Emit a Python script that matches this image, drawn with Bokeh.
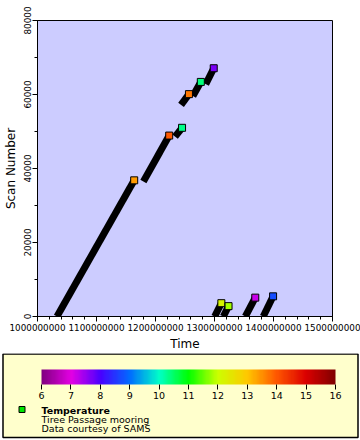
import numpy as np
from bokeh.plotting import figure
from bokeh.layouts import column
from bokeh.models import (Range1d, FixedTicker, BasicTickFormatter, LinearColorMapper,
                          ColorBar, ColumnDataSource)
from bokeh.transform import linear_cmap
from bokeh.core.properties import value
from bokeh.embed import file_html
from bokeh.resources import INLINE

# ---------------- data ----------------
start_time = [1.033e9, 1.1795e9, 1.2332e9, 1.2433e9, 1.2634e9, 1.2852e9,
              1.3003e9, 1.3150e9, 1.3523e9, 1.3826e9]
start_scan = [0, 36500, 48600, 57200, 59600, 62800, 0, 0, 0, 0]
end_time = [1.1639e9, 1.2232e9, 1.2450e9, 1.2567e9, 1.2768e9, 1.2987e9,
            1.3116e9, 1.3238e9, 1.3691e9, 1.3993e9]
end_scan = [36800, 48900, 51000, 60100, 63400, 67100, 3600, 2800, 5100, 5450]
temperature = [13.4, 14.0, 10.3, 13.7, 10.4, 7.7, 12.2, 11.8, 7.2, 8.7]

x_ticks = [1000000000, 1100000000, 1200000000, 1300000000, 1400000000, 1500000000]
y_ticks = [0, 20000, 40000, 60000, 80000]
cbar_ticks = [6, 7, 8, 9, 10, 11, 12, 13, 14, 15, 16]

anchor_values = [6, 7, 8, 9, 10, 11, 12, 13, 14, 15, 16]
anchor_colors = ["#800080", "#e400e4", "#4800ff", "#006cff", "#00ffc8", "#00ff00",
                 "#ccff00", "#ffc800", "#ff5800", "#dc0000", "#800000"]

legend_title = "Temperature"
legend_lines = ["Tiree Passage mooring", "Data courtesy of SAMS"]

FONT = "DejaVu Sans"

# ---------------- palette ----------------
rgb = np.array([[int(c[i:i + 2], 16) for i in (1, 3, 5)] for c in anchor_colors], float)
vals = np.linspace(anchor_values[0], anchor_values[-1], 256)
palette = ["#%02x%02x%02x" % tuple(int(round(np.interp(v, anchor_values, rgb[:, k]))) for k in range(3))
           for v in vals]

# ---------------- main plot ----------------
p = figure(width=360, height=353,
           x_range=Range1d(1000000000, 1500000000), y_range=Range1d(0, 80000),
           output_backend="svg", toolbar_location=None,
           background_fill_color="#ccccff", border_fill_color="white",
           min_border_left=37, min_border_right=28, min_border_top=20, min_border_bottom=35,
           x_axis_label="Time", y_axis_label="Scan Number")
p.frame_align = False
p.grid.visible = False
p.outline_line_color = "black"
p.outline_line_width = 1

x_minor = list(np.arange(x_ticks[0], x_ticks[-1] + 1, (x_ticks[1] - x_ticks[0]) / 5))
y_minor = list(np.arange(y_ticks[0], y_ticks[-1] + 1, (y_ticks[1] - y_ticks[0]) / 2))
p.xaxis.ticker = FixedTicker(ticks=x_ticks, minor_ticks=x_minor)
p.yaxis.ticker = FixedTicker(ticks=y_ticks, minor_ticks=y_minor)
p.xaxis.formatter = BasicTickFormatter(use_scientific=False)
p.yaxis.formatter = BasicTickFormatter(use_scientific=False)

for ax in (p.xaxis[0], p.yaxis[0]):
    ax.major_tick_in = 0
    ax.major_tick_out = 5
    ax.minor_tick_in = 0
    ax.minor_tick_out = 3
    ax.major_tick_line_color = "black"
    ax.minor_tick_line_color = "black"
    ax.axis_line_color = "black"
    ax.major_label_text_font = FONT
    ax.major_label_text_font_size = "8.8px"
    ax.major_label_text_color = "black"
    ax.major_label_standoff = 2
    ax.axis_label_text_font = FONT
    ax.axis_label_text_font_size = "12px"
    ax.axis_label_text_font_style = "normal"
    ax.axis_label_text_color = "black"
    ax.axis_label_standoff = 3
p.yaxis.major_label_orientation = "vertical"

src = ColumnDataSource(dict(t0=start_time, s0=start_scan, t1=end_time, s1=end_scan,
                            temp=temperature))
p.segment("t0", "s0", "t1", "s1", source=src, line_color="black", line_width=7)
p.scatter("t1", "s1", source=src, marker="square", size=7, line_color="black", line_width=1,
          fill_color=linear_cmap("temp", palette, anchor_values[0], anchor_values[-1]))

# ---------------- legend box ----------------
q = figure(width=360, height=87, x_range=Range1d(0, 360), y_range=Range1d(87, 0),
           output_backend="svg", toolbar_location=None, min_border=0,
           x_axis_location=None, y_axis_location=None,
           outline_line_color=None, background_fill_color="white", border_fill_color="white")
q.frame_align = False
q.grid.visible = False
q.quad(left=[2.5], right=[357.5], top=[0.5], bottom=[84], fill_color="#ffffcc",
       line_color="black", line_width=1.5)

mapper = LinearColorMapper(palette=palette, low=anchor_values[0], high=anchor_values[-1])
cb = ColorBar(color_mapper=mapper, orientation="horizontal", location=(41, 39),
              width=294, height=15, padding=0, ticker=FixedTicker(ticks=cbar_ticks),
              major_tick_in=0, major_tick_out=5, major_tick_line_color="black",
              minor_tick_line_color=None, bar_line_color=None, border_line_color=None,
              background_fill_alpha=0, major_label_text_font=FONT,
              major_label_text_font_size="9.5px", major_label_text_color="black",
              label_standoff=2)
q.add_layout(cb, "center")

q.scatter([21.5], [56], marker="square", size=6, fill_color="#00e600", line_color="black",
          line_width=1)
q.text(x=[41], y=[57], text=[legend_title], text_font=value(FONT), text_font_style="bold",
       text_font_size="9.5px", text_baseline="alphabetic", text_color="black")
q.text(x=[41, 41], y=[65.7, 74.7], text=legend_lines, text_font=value(FONT),
       text_font_size="9.5px", text_baseline="alphabetic", text_color="black")

layout = column(p, q, spacing=0)
open("out.html", "w").write(file_html(layout, INLINE))
